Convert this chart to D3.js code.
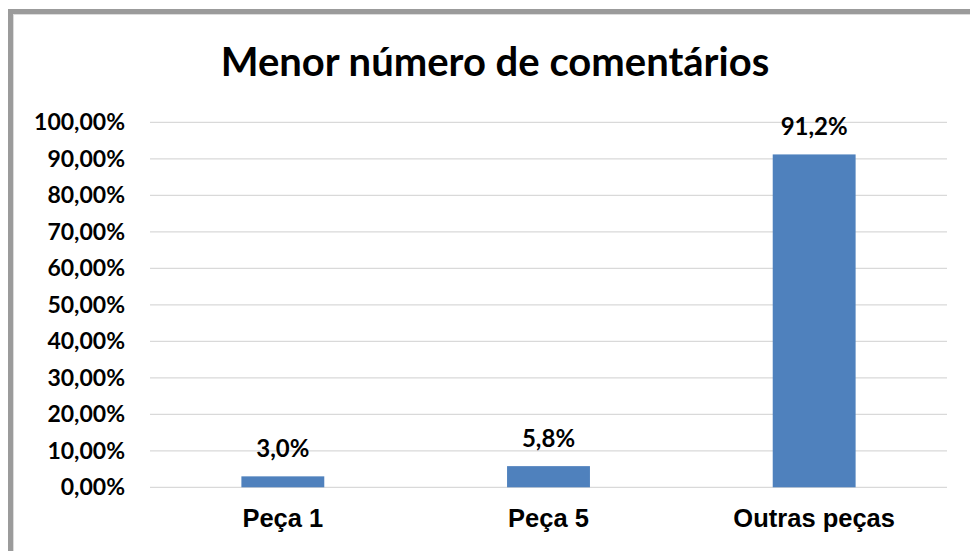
<!DOCTYPE html>
<html>
<head>
<meta charset="utf-8">
<script src="https://cdn.jsdelivr.net/npm/d3@7"></script>
<style>
  body { margin: 0; background: #fff; }
  svg { display: block; }
</style>
</head>
<body>
<div id="chart"></div>
<script>
// data
const categories = ["Peça 1", "Peça 5", "Outras peças"];
const values = [3.0, 5.8, 91.2];
const yTicks = [0, 10, 20, 30, 40, 50, 60, 70, 80, 90, 100];
const chartTitle = "Menor número de comentários";

const W = 970, H = 551;
const m = {t: 122.3, r: 23, b: 63.7, l: 150};
const iw = W - m.l - m.r, ih = H - m.t - m.b;

const svg = d3.select("#chart").append("svg")
  .attr("width", W).attr("height", H);

// outer frame (runs off the right and bottom edges)
svg.append("rect")
  .attr("x", 10.5).attr("y", 11.5)
  .attr("width", W + 20).attr("height", H + 20)
  .attr("fill", "#fff").attr("stroke", "#9b9b9b").attr("stroke-width", 5);
svg.append("rect")
  .attr("x", 13.5).attr("y", 14.5)
  .attr("width", W + 20).attr("height", H + 20)
  .attr("fill", "none").attr("stroke", "#dcdcdc").attr("stroke-width", 1);

svg.append("text")
  .attr("x", 495).attr("y", 76)
  .attr("text-anchor", "middle")
  .attr("font-family", "Lato, 'Open Sans', sans-serif")
  .attr("font-weight", "bold").attr("font-size", 40)
  .attr("fill", "#000")
  .text(chartTitle);

const g = svg.append("g").attr("transform", "translate(" + m.l + "," + m.t + ")");

const x = d3.scaleBand().domain(categories).range([0, iw]).padding(0);
const y = d3.scaleLinear().domain([0, 100]).range([ih, 0]);
const barW = x.bandwidth() * 0.312;

// gridlines
g.selectAll(".grid").data(yTicks).enter().append("line")
  .attr("x1", 0).attr("x2", iw)
  .attr("y1", d => y(d)).attr("y2", d => y(d))
  .attr("stroke", "#d9d9d9").attr("stroke-width", 1.3);

// y axis labels
const yAxis = g.append("g")
  .call(d3.axisLeft(y).tickValues(yTicks).tickSize(0).tickPadding(25)
    .tickFormat(d => d3.format(".2f")(d).replace(".", ",") + "%"));
yAxis.select(".domain").remove();
yAxis.selectAll("text")
  .attr("font-family", "Lato, 'Open Sans', sans-serif")
  .attr("font-weight", "bold").attr("font-size", 23)
  .attr("fill", "#000");

// x axis labels
const xAxis = g.append("g").attr("transform", "translate(0," + ih + ")")
  .call(d3.axisBottom(x).tickSize(0).tickPadding(22));
xAxis.select(".domain").remove();
xAxis.selectAll("text")
  .attr("font-family", "'Liberation Sans', Arial, sans-serif")
  .attr("font-weight", "bold").attr("font-size", 25.5)
  .attr("fill", "#000");

// bars
g.selectAll(".bar").data(values).enter().append("rect")
  .attr("x", (d, i) => x(categories[i]) + x.bandwidth() / 2 - barW / 2)
  .attr("y", d => y(d))
  .attr("width", barW)
  .attr("height", d => ih - y(d))
  .attr("fill", "#4f81bd");

// data labels
g.selectAll(".lbl").data(values).enter().append("text")
  .attr("x", (d, i) => x(categories[i]) + x.bandwidth() / 2)
  .attr("y", d => y(d) - 19)
  .attr("text-anchor", "middle")
  .attr("font-family", "Lato, 'Open Sans', sans-serif")
  .attr("font-weight", "bold").attr("font-size", 24)
  .attr("fill", "#000")
  .text(d => d3.format(".1f")(d).replace(".", ",") + "%");
</script>
</body>
</html>
